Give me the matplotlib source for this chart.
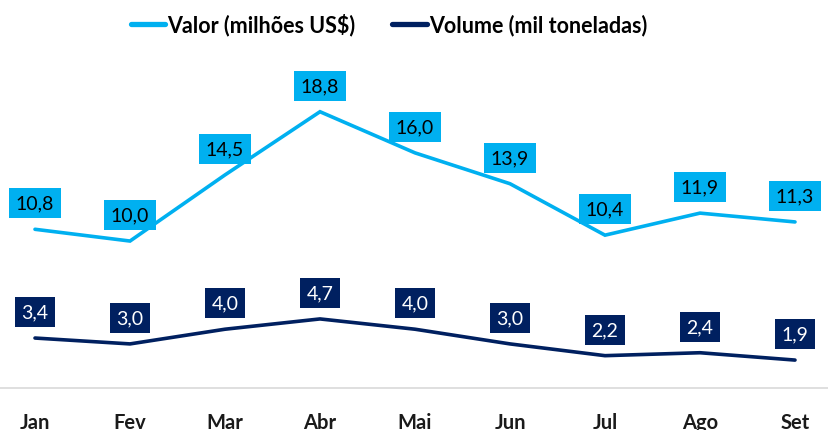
import matplotlib
matplotlib.use("Agg")
import matplotlib.pyplot as plt
from matplotlib.lines import Line2D

months = ["Jan", "Fev", "Mar", "Abr", "Mai", "Jun", "Jul", "Ago", "Set"]
valor = [10.8, 10.0, 14.5, 18.8, 16.0, 13.9, 10.4, 11.9, 11.3]
volume = [3.4, 3.0, 4.0, 4.7, 4.0, 3.0, 2.2, 2.4, 1.9]

c_valor = "#00B0F0"
c_volume = "#002060"

plt.rcParams['font.family'] = ['Lato', 'DejaVu Sans']

W, H = 829, 431
fig = plt.figure(figsize=(W / 100, H / 100), dpi=100)
bottom = 1 - 389 / H
top = 1 - 51 / H
ax = fig.add_axes([0, bottom, 1, top - bottom])

x = list(range(len(months)))
ax.plot(x, valor, color=c_valor, lw=2.6, solid_capstyle='round', solid_joinstyle='miter')
ax.plot(x, volume, color=c_volume, lw=2.6, solid_capstyle='round', solid_joinstyle='miter')

ax.set_xlim(-35 / 95, (W - 35) / 95)
ax.set_ylim(0, 23)

def fmt(v):
    return f"{v:.1f}".replace(".", ",")

for xi, v in zip(x, valor):
    ax.annotate(fmt(v), (xi, v), xytext=(0, 26), textcoords='offset pixels',
                ha='center', va='center', fontsize=14, color='black',
                bbox=dict(boxstyle='square,pad=0.34', fc=c_valor, ec='none'))
for xi, v in zip(x, volume):
    ax.annotate(fmt(v), (xi, v), xytext=(0, 26), textcoords='offset pixels',
                ha='center', va='center', fontsize=14, color='white',
                bbox=dict(boxstyle='square,pad=0.34', fc=c_volume, ec='none'))

for s in ['top', 'right', 'left']:
    ax.spines[s].set_visible(False)
ax.spines['bottom'].set_color('#D9D9D9')
ax.spines['bottom'].set_linewidth(1.2)
ax.set_yticks([])
ax.set_xticks(x)
ax.set_xticklabels(months, fontsize=14.5, fontweight='bold', color='#1a1a1a')
ax.tick_params(axis='x', length=0, pad=17)

handles = [Line2D([], [], color=c_valor, lw=3.8, solid_capstyle='round'),
           Line2D([], [], color=c_volume, lw=3.8, solid_capstyle='round')]
fig.legend(handles, ["Valor (milhões US$)", "Volume (mil toneladas)"],
           loc='center', bbox_to_anchor=(389 / W, 1 - 25 / H), ncol=2,
           frameon=False, prop=dict(size=15.5, weight='bold'),
           handlelength=1.6, handletextpad=0.1, columnspacing=1.7)

fig.savefig("out.png", dpi=100)
